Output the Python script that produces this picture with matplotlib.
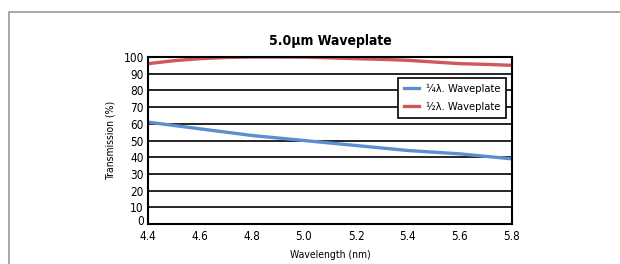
import matplotlib
matplotlib.use("Agg")
import matplotlib.pyplot as plt
import matplotlib.patches as mpatches
import matplotlib.transforms as mtransforms

plt.rcParams['font.family'] = ['DejaVu Sans']
plt.rcParams['font.stretch'] = 'condensed'

wl = [4.4, 4.5, 4.6, 4.7, 4.8, 4.9, 5.0, 5.1, 5.2, 5.3, 5.4, 5.5, 5.6, 5.7, 5.8]
quarter = [61, 59, 57, 55, 53, 51.5, 50, 48.5, 47, 45.5, 44, 43, 42, 40.5, 39]
half = [96, 97.8, 99, 99.7, 100, 100, 99.9, 99.5, 99, 98.6, 98, 97, 96, 95.6, 95]

xticks = [4.4, 4.6, 4.8, 5.0, 5.2, 5.4, 5.6, 5.8]
yticks = list(range(0, 101, 10))

fig = plt.figure(figsize=(6.2, 2.64), dpi=100)
# light gray outer frame
fig.patches.append(mpatches.Rectangle((9 / 620, -0.1), 1.0, 1 - 12 / 264 + 0.1,
                                      transform=fig.transFigure, fill=False,
                                      edgecolor='#9a9a9a', lw=1.2))

ax = fig.add_axes([148 / 620, 1 - 224 / 264, (512 - 148) / 620, (224 - 57) / 264])
ax.set_xlim(4.4, 5.8)
ax.set_ylim(0, 100)
ax.set_xticks(xticks)
ax.set_xticklabels([f"{t:.1f}" for t in xticks])
ax.set_yticks(yticks)
ax.yaxis.grid(True, color='black', lw=1.2)
ax.set_axisbelow(True)
ax.tick_params(length=0, labelsize=8.5, pad=3)
ax.tick_params(axis='x', pad=4)
for s in ax.spines.values():
    s.set_linewidth(1.5)

# lift the "0" label a little so it clears the first x tick label
zero = ax.get_yticklabels()[0]
zero.set_transform(zero.get_transform() +
                   mtransforms.ScaledTranslation(0, 3 / 72, fig.dpi_scale_trans))

ax.plot(wl, quarter, color='#5b8fd0', lw=2.4, label='¼λ. Waveplate')
ax.plot(wl, half, color='#d0575a', lw=2.4, label='½λ. Waveplate')

ax.set_title('5.0µm Waveplate', fontsize=10, fontweight='bold', pad=9)
ax.set_xlabel('Wavelength (nm)', fontsize=7.5, labelpad=5)
ax.set_ylabel('Transmission (%)', fontsize=7.5, labelpad=6)

leg = ax.legend(loc='upper right', bbox_to_anchor=(0.983, 0.875), fontsize=8,
                frameon=True, fancybox=False, framealpha=1, edgecolor='black',
                handlelength=1.4, borderpad=0.5, labelspacing=0.75, handletextpad=0.6,
                borderaxespad=0)
leg.get_frame().set_linewidth(1.2)

fig.savefig('out.png', dpi=100)
